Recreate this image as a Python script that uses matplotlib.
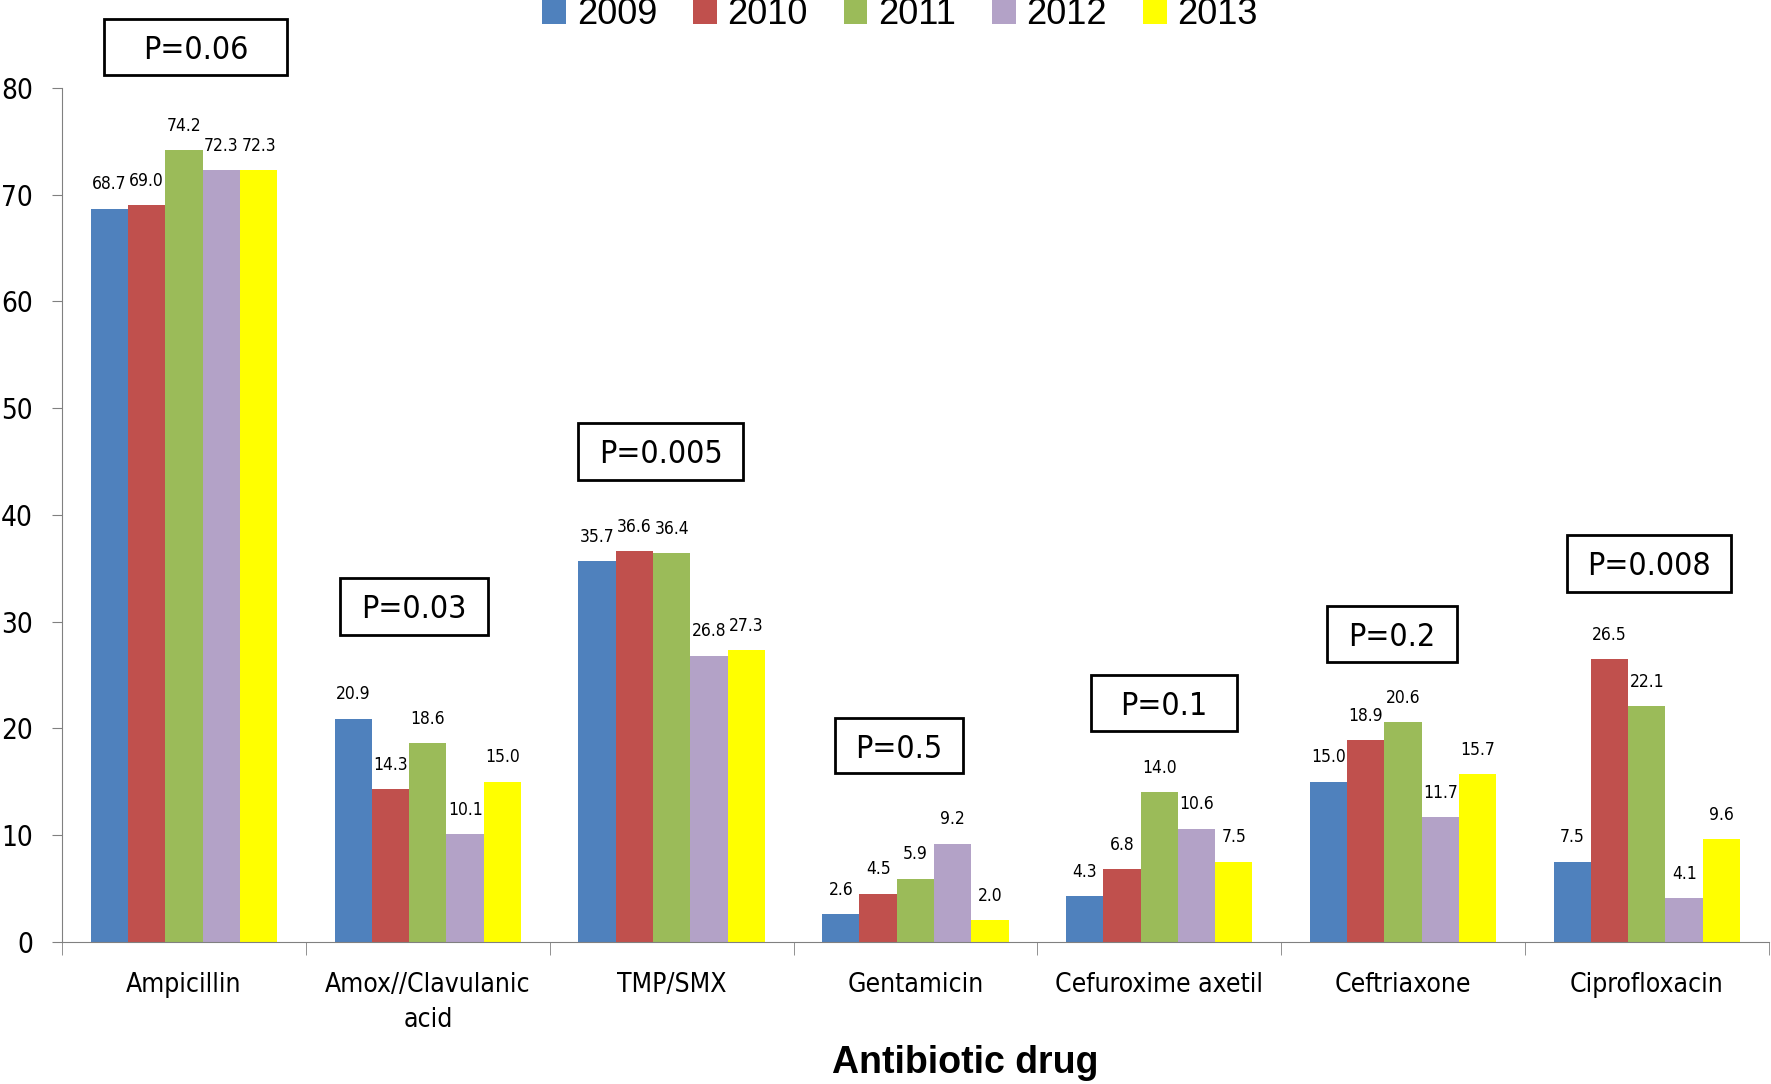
import numpy as np
import matplotlib.pyplot as plt
from matplotlib.patches import Rectangle

# Data
drugs = ["Ampicillin", "Amox//Clavulanic\nacid", "TMP/SMX", "Gentamicin",
         "Cefuroxime axetil", "Ceftriaxone", "Ciprofloxacin"]
years = ["2009", "2010", "2011", "2012", "2013"]
r2009 = [68.7, 20.9, 35.7, 2.6, 4.3, 15.0, 7.5]
r2010 = [69.0, 14.3, 36.6, 4.5, 6.8, 18.9, 26.5]
r2011 = [74.2, 18.6, 36.4, 5.9, 14.0, 20.6, 22.1]
r2012 = [72.3, 10.1, 26.8, 9.2, 10.6, 11.7, 4.1]
r2013 = [72.3, 15.0, 27.3, 2.0, 7.5, 15.7, 9.6]
p_values = ["P=0.06", "P=0.03", "P=0.005", "P=0.5", "P=0.1", "P=0.2", "P=0.008"]

colors = ["#4F81BD", "#C0504D", "#9BBB59", "#B3A2C7", "#FFFF00"]
series = [r2009, r2010, r2011, r2012, r2013]

narrow = ["Liberation Sans Narrow", "DejaVu Sans"]
arial = ["Liberation Sans", "DejaVu Sans"]
cond = dict(family=narrow, stretch="condensed")

W, H = 1568, 960  # reference display size used for layout fractions
fig = plt.figure(figsize=(17.71, 10.84), dpi=100)
ax = fig.add_axes([55 / W, 1 - 834 / H, (1566 - 55) / W, (834 - 78) / H])

x = np.arange(len(drugs))
bw = 0.153
for i, (vals, c) in enumerate(zip(series, colors)):
    pos = x + (i - 2) * bw
    bars = ax.bar(pos, vals, width=bw, color=c, label=years[i])
    for b, v in zip(bars, vals):
        ax.annotate(f"{v:.1f}", (b.get_x() + b.get_width() / 2, v),
                    xytext=(0, 11), textcoords="offset points",
                    ha="center", va="bottom", fontsize=12.5, **cond)

ax.set_xlim(-0.5, len(drugs) - 0.5)
ax.set_ylim(0, 80)
ax.set_yticks(range(0, 81, 10))
ax.set_yticklabels([str(v) for v in range(0, 81, 10)], fontsize=20, **cond)
ax.set_xticks(x)
ax.set_xticklabels(drugs, fontsize=19, linespacing=1.45, **cond)
ax.set_xticks(np.arange(-0.5, len(drugs)), minor=True)
ax.tick_params(axis="x", which="major", length=0, pad=22)
ax.tick_params(axis="x", which="minor", length=9, color="#808080")
ax.tick_params(axis="y", length=7, color="#808080", pad=14)
for s in ["top", "right"]:
    ax.spines[s].set_visible(False)
for s in ["left", "bottom"]:
    ax.spines[s].set_color("#808080")

fig.text(855 / W, 1 - 941 / H, "Antibiotic drug", ha="center", va="center",
         fontsize=27, fontweight="bold", family=arial)

# P-value boxes (display-pixel layout from the reference)
boxes = [(92, 17, 254, 66), (301, 512, 432, 562), (512, 375, 658, 425),
         (739, 636, 853, 685), (966, 598, 1095, 647), (1175, 537, 1290, 586),
         (1387, 474, 1533, 524)]
for (x0, y0, x1, y1), p in zip(boxes, p_values):
    fig.patches.append(Rectangle((x0 / W, 1 - y1 / H), (x1 - x0) / W, (y1 - y0) / H,
                                 transform=fig.transFigure, fill=False,
                                 edgecolor="black", linewidth=2))
    fig.text((x0 + x1) / 2 / W, 1 - (y0 + y1) / 2 / H - 0.003, p,
             ha="center", va="center", fontsize=23, **cond)

fig.legend(loc="center", bbox_to_anchor=(797 / W, 1 - 13 / H), ncol=5,
           frameon=False, prop={"family": arial, "size": 26},
           handlelength=0.65, handleheight=0.65, handletextpad=0.3,
           columnspacing=1.0)

fig.savefig("out.png", dpi=100)
